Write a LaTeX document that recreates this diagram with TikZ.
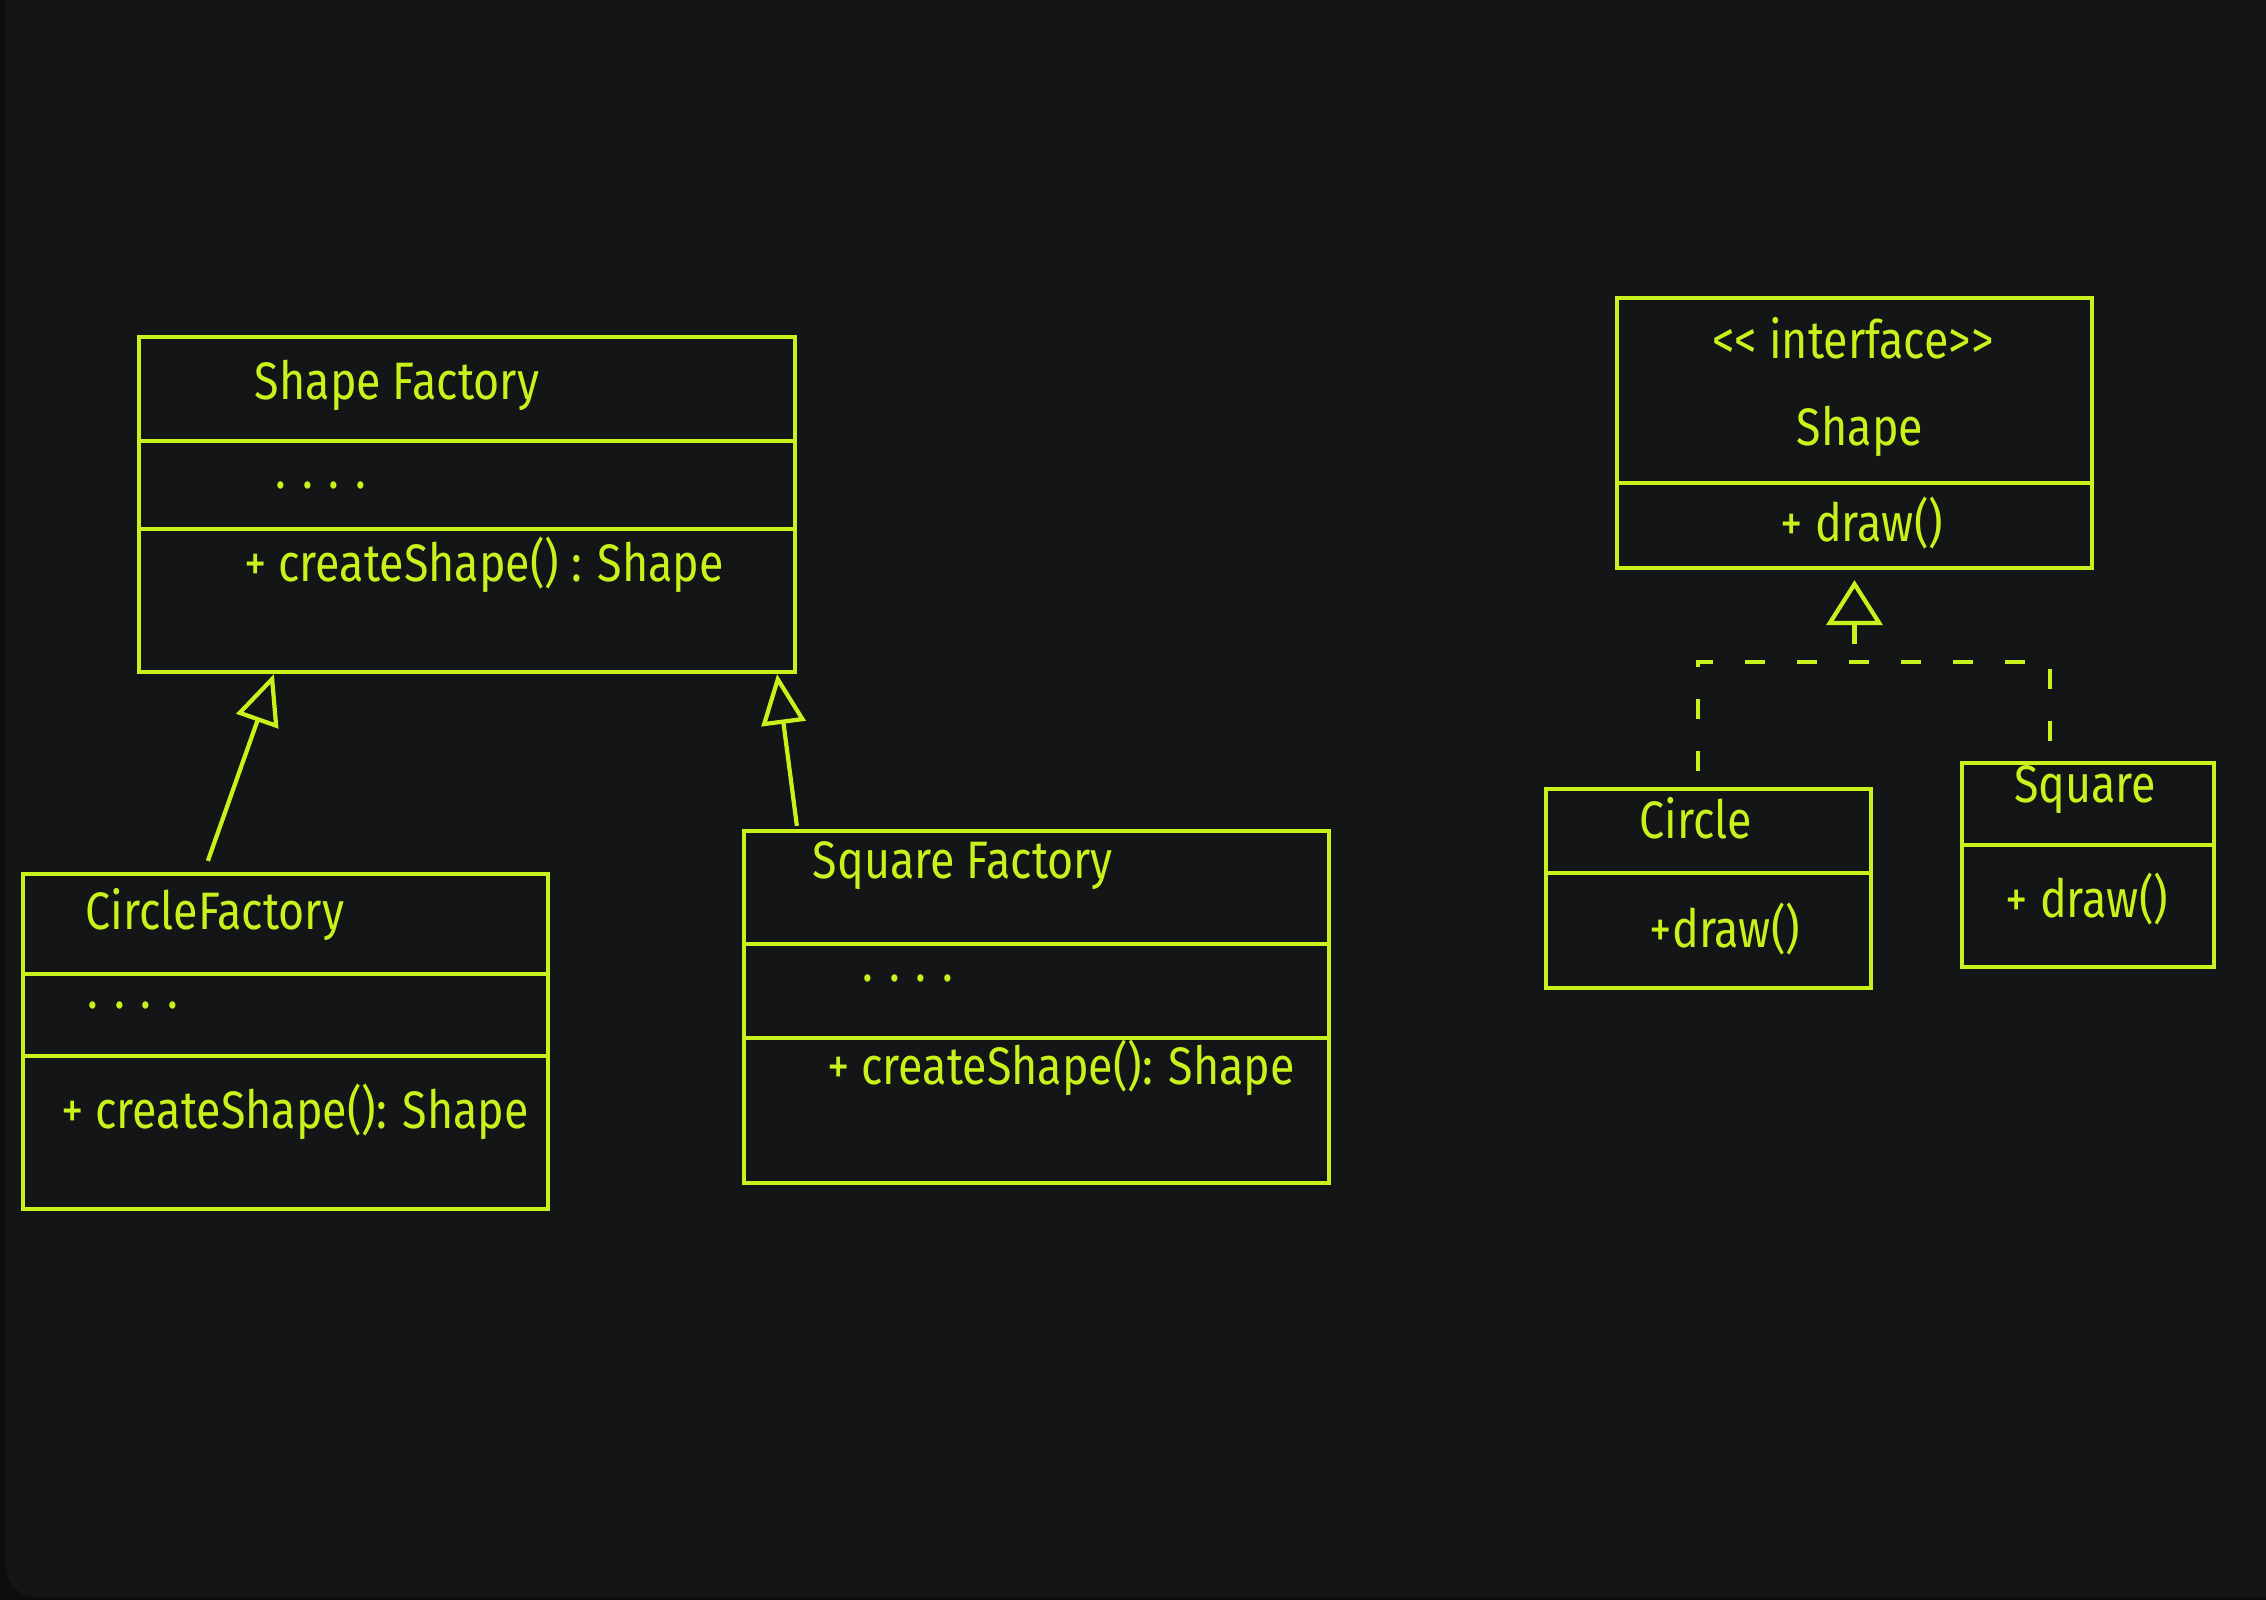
\documentclass[tikz,border=0pt]{standalone}
\usepackage{fontspec}
\setmainfont[FakeStretch=0.85]{Fira Sans}
\usetikzlibrary{arrows.meta,calc}
\definecolor{board}{HTML}{141517}
\definecolor{frame}{HTML}{0C0D0F}
\definecolor{chalk}{HTML}{C8F21C}
\begin{document}
\begin{tikzpicture}[
    line width=1.2pt,
    classbox/.style={draw=chalk, rectangle, inner sep=0pt},
    txt/.style={text=chalk, font=\fontsize{15}{17}\selectfont, inner sep=1pt},
    inherit/.style={draw=chalk, -{Triangle[open, length=0.5cm, width=0.44cm]}},
    realize/.style={draw=chalk, -{Triangle[open, length=0.45cm, width=0.56cm]}},
    dashline/.style={draw=chalk, dash pattern=on 0.2cm off 0.32cm},
]
    \useasboundingbox (0,0) rectangle (22.66,-16);
    \clip (0,0) rectangle (22.66,-16);
    \fill[frame] (0,0) rectangle (22.66,-16);
    \fill[board, rounded corners=0.3cm] (0.06,0.5) rectangle (23.2,-15.97);

    % class boxes
    \node[classbox, minimum width=6.56cm, minimum height=3.35cm] (shapefactory) at (4.67,-5.045) {};
    \node[classbox, minimum width=5.25cm, minimum height=3.35cm] (circlefactory) at (2.855,-10.415) {};
    \node[classbox, minimum width=5.85cm, minimum height=3.52cm] (squarefactory) at (10.365,-10.07) {};
    \node[classbox, minimum width=4.75cm, minimum height=2.70cm] (shape) at (18.545,-4.33) {};
    \node[classbox, minimum width=3.25cm, minimum height=1.99cm] (circle) at (17.085,-8.885) {};
    \node[classbox, minimum width=2.52cm, minimum height=2.04cm] (square) at (20.88,-8.65) {};

    \foreach \b/\y in {shapefactory/-4.41, shapefactory/-5.29, circlefactory/-9.74, circlefactory/-10.56,
        squarefactory/-9.44, squarefactory/-10.38, shape/-4.83, circle/-8.73, square/-8.45}
        \draw[chalk] (\b.west |- 0,\y) -- (\b.east |- 0,\y);

    % texts
    \node[txt] (sftitle) at (3.97,-3.85) {Shape Factory};
    \node[txt] (sfdots) at (3.21,-4.85) {. . . .};
    \node[txt] (sfop) at (4.84,-5.65) {+ createShape() : Shape};

    \node[txt] (cftitle) at (2.15,-9.15) {CircleFactory};
    \node[txt] (cfdots) at (1.33,-10.05) {. . . .};
    \node[txt] (cfop) at (2.95,-11.12) {+ createShape(): Shape};

    \node[txt] (sqftitle) at (9.63,-8.66) {Square Factory};
    \node[txt] (sqfdots) at (9.08,-9.78) {. . . .};
    \node[txt] (sqfop) at (10.61,-10.68) {+ createShape(): Shape};

    \node[txt] (shapestereo) at (18.53,-3.38) {{<}{<} interface{>}{>}};
    \node[txt] (shapename) at (18.60,-4.31) {Shape};
    \node[txt] (shapeop) at (18.62,-5.23) {+ draw()};

    \node[txt] (circlename) at (16.96,-8.18) {Circle};
    \node[txt] (circleop) at (17.25,-9.29) {+draw()};

    \node[txt] (squarename) at (20.85,-7.90) {Square};
    \node[txt] (squareop) at (20.87,-8.99) {+ draw()};

    % inheritance
    \draw[inherit] ($(circlefactory.north west)+(1.87,0.11)$) -- ($(shapefactory.south west)+(1.37,0)$);
    \draw[inherit] ($(squarefactory.north west)+(0.55,0.03)$) -- ($(shapefactory.south east)+(-0.2,0)$);

    % realization
    \coordinate (join) at ($(shape.south)+(0,-0.92)$);
    \draw[dashline] ($(circle.north west)+(1.54,0.16)$) |- (join) -| ($(square.north west)+(0.9,0.14)$);
    \draw[realize, shorten <=0.18cm] (join) -- ($(shape.south)+(0,-0.1)$);
\end{tikzpicture}
\end{document}
